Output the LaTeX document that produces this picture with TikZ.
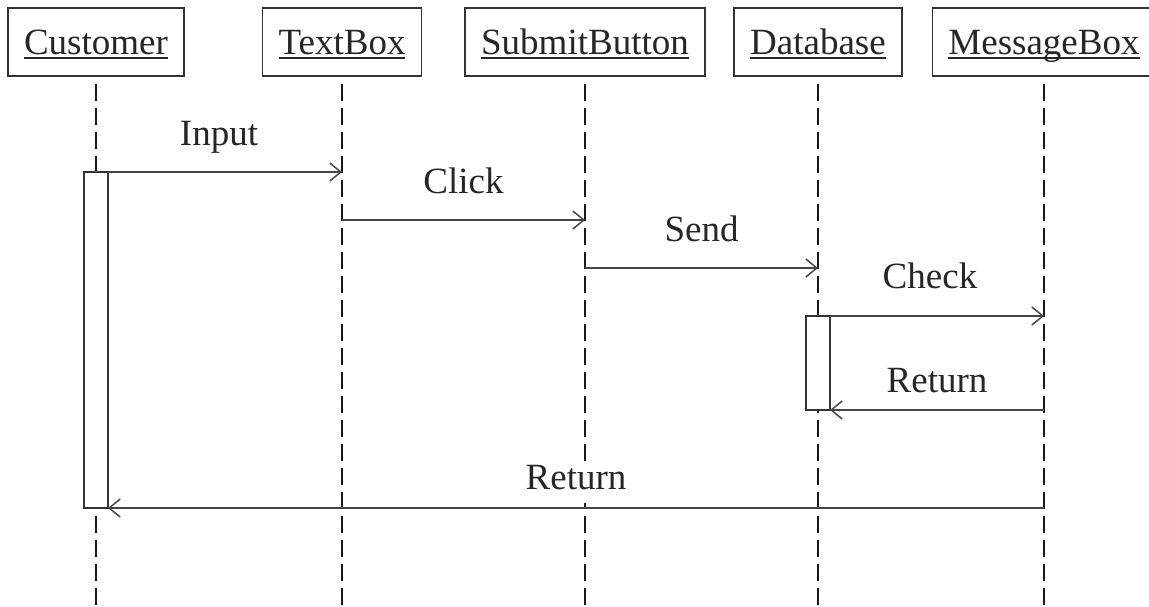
\documentclass[tikz,border=0pt]{standalone}
\usepackage{fontspec}
\setmainfont{Liberation Serif}
\usetikzlibrary{arrows.meta}
\newcommand\myul[1]{\setbox0\hbox{#1}\rlap{\rule[-4.5pt]{\wd0}{1.8pt}}\box0}
\begin{document}
\begin{tikzpicture}[x=1pt,y=-1pt,
  actor/.style={draw=black!80, line width=1.7pt, minimum height=68pt, inner xsep=16pt, inner ysep=0pt,
    text height=25pt, text depth=0pt, font=\fontsize{37}{44}\selectfont, text=black!85},
  life/.style={line width=1.8pt, draw=black!90, dash pattern=on 17pt off 7pt, dash phase=17pt},
  act/.style={draw=black!80, fill=white, line width=1.7pt, minimum width=24pt, inner sep=0pt, outer sep=0pt},
  msg/.style={line width=1.8pt, draw=black!72, -{Straight Barb[length=11pt,width=18pt,line width=1.5pt]}},
  lbl/.style={font=\fontsize{37}{44}\selectfont, anchor=base, inner xsep=2pt, inner ysep=1pt,
    text depth=13pt, fill=white, text=black!85}]
\useasboundingbox (0,0) rectangle (1149,606);
% actors
\node[actor] (cust) at (96,42) {\myul{Customer}};
\node[actor] (tb) at (342,42) {\myul{TextBox}};
\node[actor] (sb) at (585,42) {\myul{SubmitButton}};
\node[actor] (db) at (818,42) {\myul{Database}};
\node[actor] (mb) at (1044,42) {\myul{MessageBox}};
% lifeline ends
\coordinate (custEnd) at (96,606);
\coordinate (tbEnd) at (342,606);
\coordinate (sbEnd) at (585,606);
\coordinate (dbEnd) at (818,606);
\coordinate (mbEnd) at (1044,606);
\draw[life] (cust.south) -- (custEnd);
\draw[life] (tb.south) -- (tbEnd);
\draw[life] (sb.south) -- (sbEnd);
\draw[life] (db.south) -- (dbEnd);
\draw[life] (mb.south) -- (mbEnd);
% activations
\node[act, minimum height=336pt] (ca) at (96,340) {};
\node[act, minimum height=94pt] (da) at (818,363) {};
% message points
\coordinate (tb1) at (342,172);
\coordinate (tb2) at (342,220);
\coordinate (sb2) at (585,220);
\coordinate (sb3) at (585,268);
\coordinate (db3) at (818,268);
\coordinate (mb4) at (1044,316);
\coordinate (mb5) at (1044,410);
\coordinate (mb6) at (1044,508);
% messages
\draw[msg] (ca.north east) -- (tb1) node[lbl, midway, yshift=27pt, xshift=-6pt] {Input};
\draw[msg] (tb2) -- (sb2) node[lbl, midway, yshift=27pt] {Click};
\draw[msg] (sb3) -- (db3) node[lbl, midway, yshift=27pt] {Send};
\draw[msg] (da.north east) -- (mb4) node[lbl, midway, yshift=28pt, xshift=-7pt] {Check};
\draw[msg] (mb5) -- (da.south east) node[lbl, midway, yshift=18pt] {Return};
\draw[msg] (mb6) -- (ca.south east) node[lbl, midway, yshift=19pt] {Return};
\end{tikzpicture}
\end{document}
